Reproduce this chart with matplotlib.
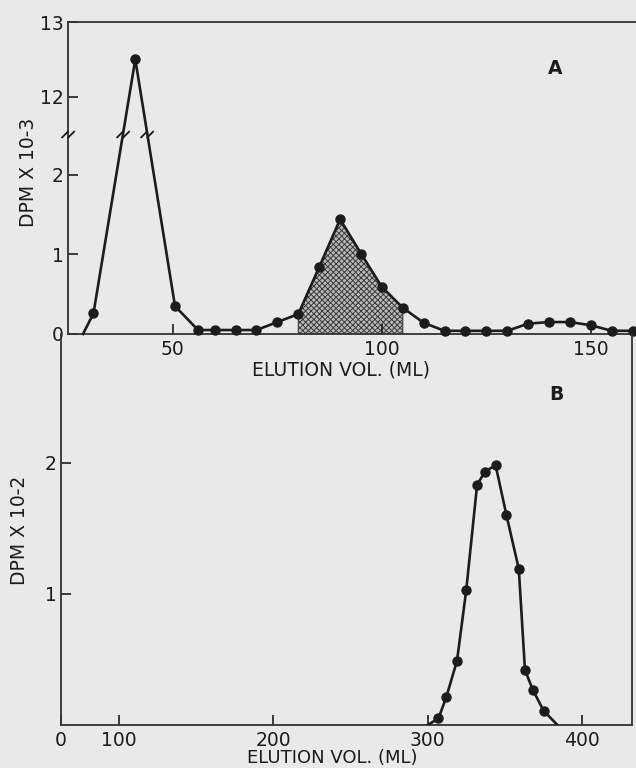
import numpy as np
import matplotlib
matplotlib.use("Agg")
import matplotlib.pyplot as plt
from matplotlib.path import Path

# ---------------- data ----------------
# Panel A: elution volume (ml) vs DPM x 10^-3
a_vol = [28.5, 31, 41, 50.5, 56, 60, 65, 70, 75, 80, 85, 90, 95, 100, 105, 110,
         115, 120, 125, 130, 135, 140, 145, 150, 155, 160]
a_dpm = [0.0, 0.26, 12.5, 0.35, 0.05, 0.05, 0.05, 0.05, 0.15, 0.25, 0.84, 1.44,
         1.01, 0.59, 0.33, 0.14, 0.04, 0.04, 0.04, 0.04, 0.13, 0.15, 0.15, 0.11,
         0.04, 0.04]
a_shade_range = (80, 105)
a_yticks = [0, 1, 2, 12, 13]
a_xticks = [50, 100, 150]

# Panel B: elution volume (ml) vs DPM x 10^-2
b_vol = [300, 307, 312, 319, 325, 332, 337, 344, 351, 359, 363, 368, 375, 384]
b_dpm = [0.0, 0.05, 0.21, 0.49, 1.03, 1.83, 1.93, 1.98, 1.60, 1.19, 0.42, 0.27,
         0.11, 0.0]
b_yticks = [1, 2]
b_xticks = [100, 200, 300, 400]

xlabel = "ELUTION VOL. (ML)"
ylabel_a = "DPM X 10-3"
ylabel_b = "DPM X 10-2"

# ---------------- style ----------------
W, H = 636, 768
BG = "#e9e9e9"
INK = "#1c1c1c"
FS = 13.5
plt.rcParams["font.family"] = ["DejaVu Sans"]
plt.rcParams["hatch.linewidth"] = 0.7
plt.rcParams["hatch.color"] = "#3a3a3a"

fig = plt.figure(figsize=(W / 100, H / 100), dpi=100, facecolor=BG)


def fx(x):
    return x / W


def fy(y):
    return 1 - y / H


# broken y-scale for panel A
LO, HI, GAPT, UP = 2.5, 11.5, 0.01, 75 / 80


def fwd(y):
    y = np.asarray(y, float)
    return np.where(y <= LO, y,
                    np.where(y >= HI, LO + GAPT + (y - HI) * UP,
                             LO + (y - LO) * GAPT / (HI - LO)))


def inv(t):
    t = np.asarray(t, float)
    return np.where(t <= LO, t,
                    np.where(t >= LO + GAPT, HI + (t - LO - GAPT) / UP,
                             LO + (t - LO) * (HI - LO) / GAPT))


brk = Path([(-1.0, -0.5), (0.0, 0.5), (-0.1, -0.5), (0.9, 0.5)],
           [Path.MOVETO, Path.LINETO, Path.MOVETO, Path.LINETO])

# ---------------- panel A ----------------
axA = fig.add_axes([fx(68), fy(334), fx(636 - 68), (334 - 22) / H])
axA.set_facecolor("none")
axA.set_yscale("function", functions=(fwd, inv))
axA.set_xlim(24.9, 160.8)
axA.set_ylim(0, 13)

xa = np.array(a_vol, float)
ya = np.array(a_dpm, float)
m = (xa >= a_shade_range[0]) & (xa <= a_shade_range[1])
axA.fill_between(xa[m], 0, ya[m], facecolor="#b9b9b9", hatch="xxxxxx",
                 edgecolor="#3a3a3a", linewidth=0.8, zorder=1)
axA.plot(xa, ya, color=INK, lw=1.9, marker="o", ms=6.5, mfc=INK, mec=INK,
         markevery=slice(1, None), zorder=3, clip_on=False)

# break marks on the axis and on the peak lines
tb = LO + GAPT / 2
axA.plot([0], [inv(tb)], transform=axA.get_yaxis_transform(), marker=brk,
         ms=10, mew=1.3, color=INK, ls="none", clip_on=False, zorder=4)
ta = fwd(ya)
ipk = int(np.argmax(ya))
for i0, i1 in [(ipk - 1, ipk), (ipk, ipk + 1)]:
    xb = xa[i0] + (tb - ta[i0]) / (ta[i1] - ta[i0]) * (xa[i1] - xa[i0])
    axA.plot([xb], [inv(tb)], marker=brk, ms=10, mew=1.3, color=INK,
             ls="none", zorder=4)

axA.set_yticks(a_yticks)
axA.set_yticklabels([str(v) for v in a_yticks])
axA.set_xticks(a_xticks)
axA.set_xticklabels([str(v) for v in a_xticks])
axA.yaxis.set_minor_locator(matplotlib.ticker.NullLocator())
axA.tick_params(axis="both", direction="in", length=7, width=1.2,
                colors=INK, labelsize=FS, pad=3)
axA.tick_params(axis="x", pad=4)
axA.spines["right"].set_visible(False)
for s in ["left", "top", "bottom"]:
    axA.spines[s].set_color("#333333")
    axA.spines[s].set_linewidth(1.3)

# ---------------- panel B ----------------
axB = fig.add_axes([fx(61), fy(725), fx(632 - 61), (725 - 334) / H])
axB.set_facecolor("none")
axB.set_xlim(62.6, 432.3)
axB.set_ylim(0, 2.98)
axB.plot(b_vol, b_dpm, color=INK, lw=1.9, marker="o", ms=6.5, mfc=INK,
         mec=INK, markevery=slice(1, -1), zorder=3)
axB.set_yticks(b_yticks)
axB.set_yticklabels([str(v) for v in b_yticks])
axB.set_xticks([62.6] + b_xticks)
axB.set_xticklabels(["0"] + [str(v) for v in b_xticks])
axB.tick_params(axis="both", direction="in", length=7, width=1.2,
                colors=INK, labelsize=FS, pad=3)
axB.tick_params(axis="x", pad=4)
axB.spines["top"].set_visible(False)
for s in ["left", "right", "bottom"]:
    axB.spines[s].set_color("#333333")
    axB.spines[s].set_linewidth(1.3)

# ---------------- texts ----------------
fig.text(fx(341), fy(370), xlabel, ha="center", va="center", fontsize=FS,
         color=INK)
fig.text(fx(332), fy(758), xlabel, ha="center", va="center", fontsize=13,
         color=INK)
fig.text(fx(29), fy(172), ylabel_a, ha="center", va="center", rotation=90,
         fontsize=FS, color=INK)
fig.text(fx(20), fy(530), ylabel_b, ha="center", va="center", rotation=90,
         fontsize=FS, color=INK)
fig.text(fx(555), fy(68), "A", ha="center", va="center", fontsize=FS,
         fontweight="bold", color=INK)
fig.text(fx(556), fy(395), "B", ha="center", va="center", fontsize=FS,
         fontweight="bold", color=INK)

fig.savefig("out.png", dpi=100, facecolor=BG)
